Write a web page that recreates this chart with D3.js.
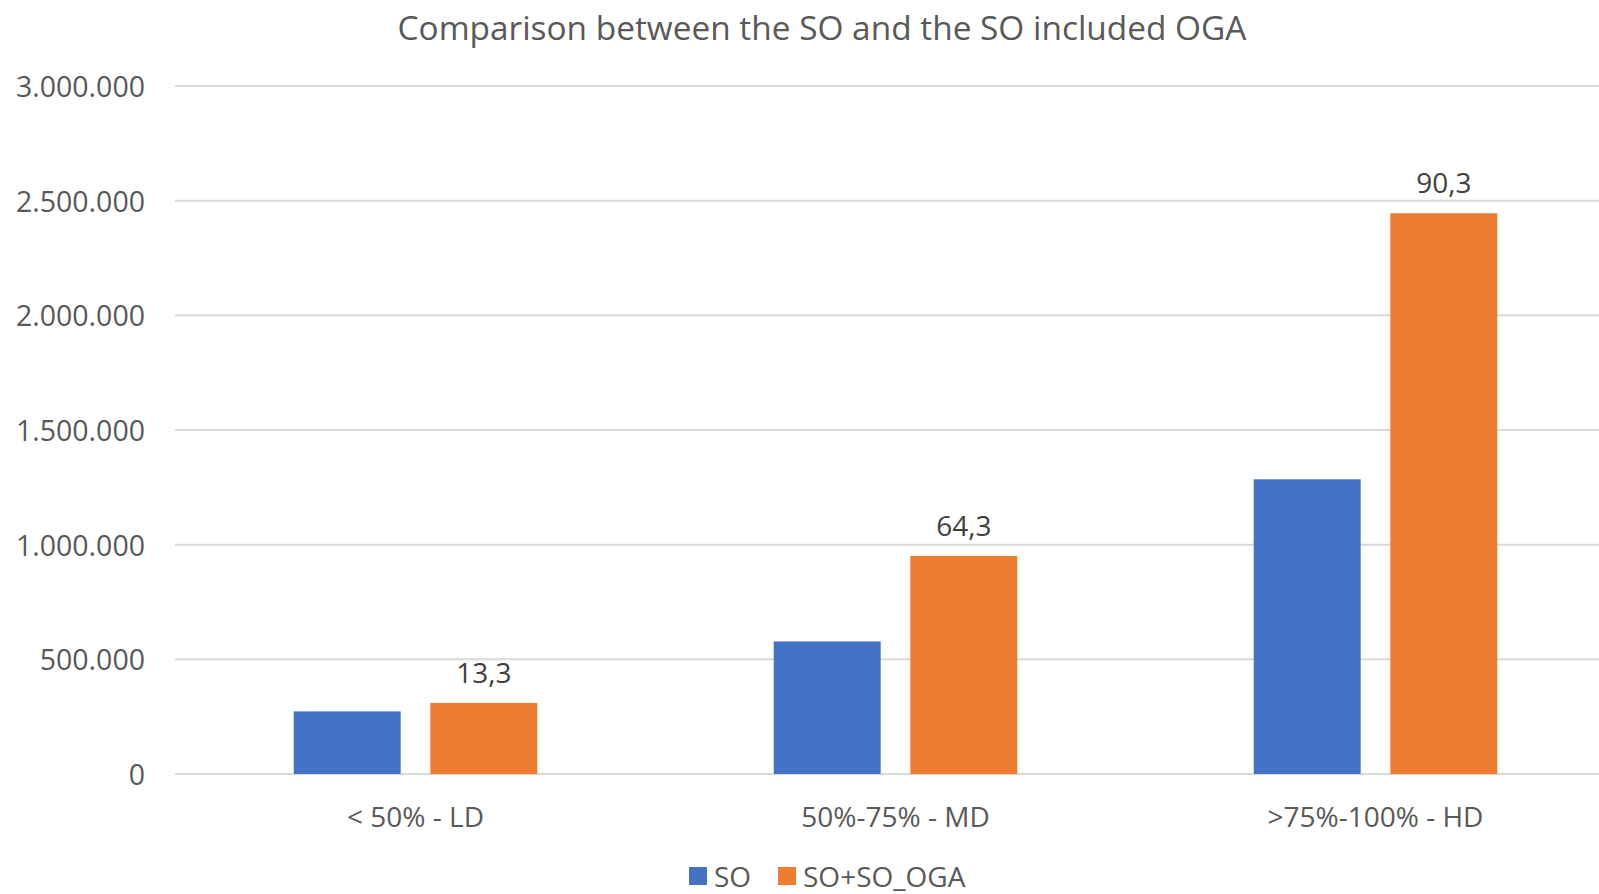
<!DOCTYPE html>
<html>
<head>
<meta charset="utf-8">
<script src="https://cdn.jsdelivr.net/npm/d3@7"></script>
<style>
  body { margin: 0; background: #fff; }
  text { font-family: "Open Sans", "Noto Sans", sans-serif; }
</style>
</head>
<body>
<div id="chart"></div>
<script>
// chart data
const categories = ["< 50% - LD", "50%-75% - MD", ">75%-100% - HD"];
const seriesNames = ["SO", "SO+SO_OGA"];
const soValues = [273000, 578000, 1285000];
const soOgaValues = [310000, 951000, 2445000];
const increaseLabels = ["13,3", "64,3", "90,3"];
const yTicks = [0, 500000, 1000000, 1500000, 2000000, 2500000, 3000000];

const width = 1599, height = 894;
const colors = { "SO": "#4472c4", "SO+SO_OGA": "#ed7d31" };

const svg = d3.select("#chart").append("svg")
    .attr("width", width).attr("height", height);

const rows = categories.map((c, i) => ({ cat: c, SO: soValues[i], "SO+SO_OGA": soOgaValues[i], label: increaseLabels[i] }));

const x0 = d3.scaleBand().domain(categories).range([175.5, 1615.5]);
const groupW = 243.6;
const x1 = d3.scaleBand().domain(seriesNames).range([-groupW / 2, groupW / 2]).paddingInner(0.217);
const y = d3.scaleLinear().domain([0, 3000000]).range([774, 86]);

// number format with dots as thousand separators
const fmt = d3.formatLocale({ decimal: ",", thousands: ".", grouping: [3], currency: ["", ""] }).format(",d");

// gridlines
svg.append("g").selectAll("line").data(yTicks).enter().append("line")
    .attr("x1", 175).attr("x2", width)
    .attr("y1", d => y(d)).attr("y2", d => y(d))
    .attr("stroke", "#d9d9d9").attr("stroke-width", 2);

// y axis labels
svg.append("g").selectAll("text").data(yTicks).enter().append("text")
    .attr("x", 145).attr("y", d => y(d))
    .attr("text-anchor", "end").attr("dominant-baseline", "central")
    .attr("font-size", 28.5).attr("fill", "#595959")
    .text(d => fmt(d));

// bars
const group = svg.append("g").selectAll("g").data(rows).enter().append("g")
    .attr("transform", d => "translate(" + (x0(d.cat) + x0.bandwidth() / 2) + ",0)");

group.selectAll("rect").data(d => seriesNames.map(s => ({ s: s, v: d[s] }))).enter().append("rect")
    .attr("x", d => x1(d.s)).attr("width", x1.bandwidth())
    .attr("y", d => y(d.v)).attr("height", d => y(0) - y(d.v))
    .attr("fill", d => colors[d.s]);

// labels above the orange bars
group.append("text")
    .attr("x", x1("SO+SO_OGA") + x1.bandwidth() / 2)
    .attr("y", d => y(d["SO+SO_OGA"]) - 31)
    .attr("text-anchor", "middle").attr("dominant-baseline", "central")
    .attr("font-size", 28).attr("fill", "#404040")
    .text(d => d.label);

// category labels
svg.append("g").selectAll("text").data(categories).enter().append("text")
    .attr("x", d => x0(d) + x0.bandwidth() / 2).attr("y", 816)
    .attr("text-anchor", "middle").attr("dominant-baseline", "central")
    .attr("font-size", 28).attr("fill", "#595959")
    .text(d => d);

// title
svg.append("text")
    .attr("x", 822).attr("y", 27)
    .attr("text-anchor", "middle").attr("dominant-baseline", "central")
    .attr("font-size", 33.4).attr("fill", "#595959")
    .text("Comparison between the SO and the SO included OGA");

// legend
const legendX = [689, 778];
const legend = svg.append("g").selectAll("g").data(seriesNames).enter().append("g")
    .attr("transform", (d, i) => "translate(" + legendX[i] + ",876)");
legend.append("rect").attr("x", 0).attr("y", -9).attr("width", 18).attr("height", 18)
    .attr("fill", d => colors[d]);
legend.append("text").attr("x", 25).attr("y", 0)
    .attr("dominant-baseline", "central")
    .attr("font-size", 28).attr("fill", "#595959")
    .text(d => d);
</script>
</body>
</html>
